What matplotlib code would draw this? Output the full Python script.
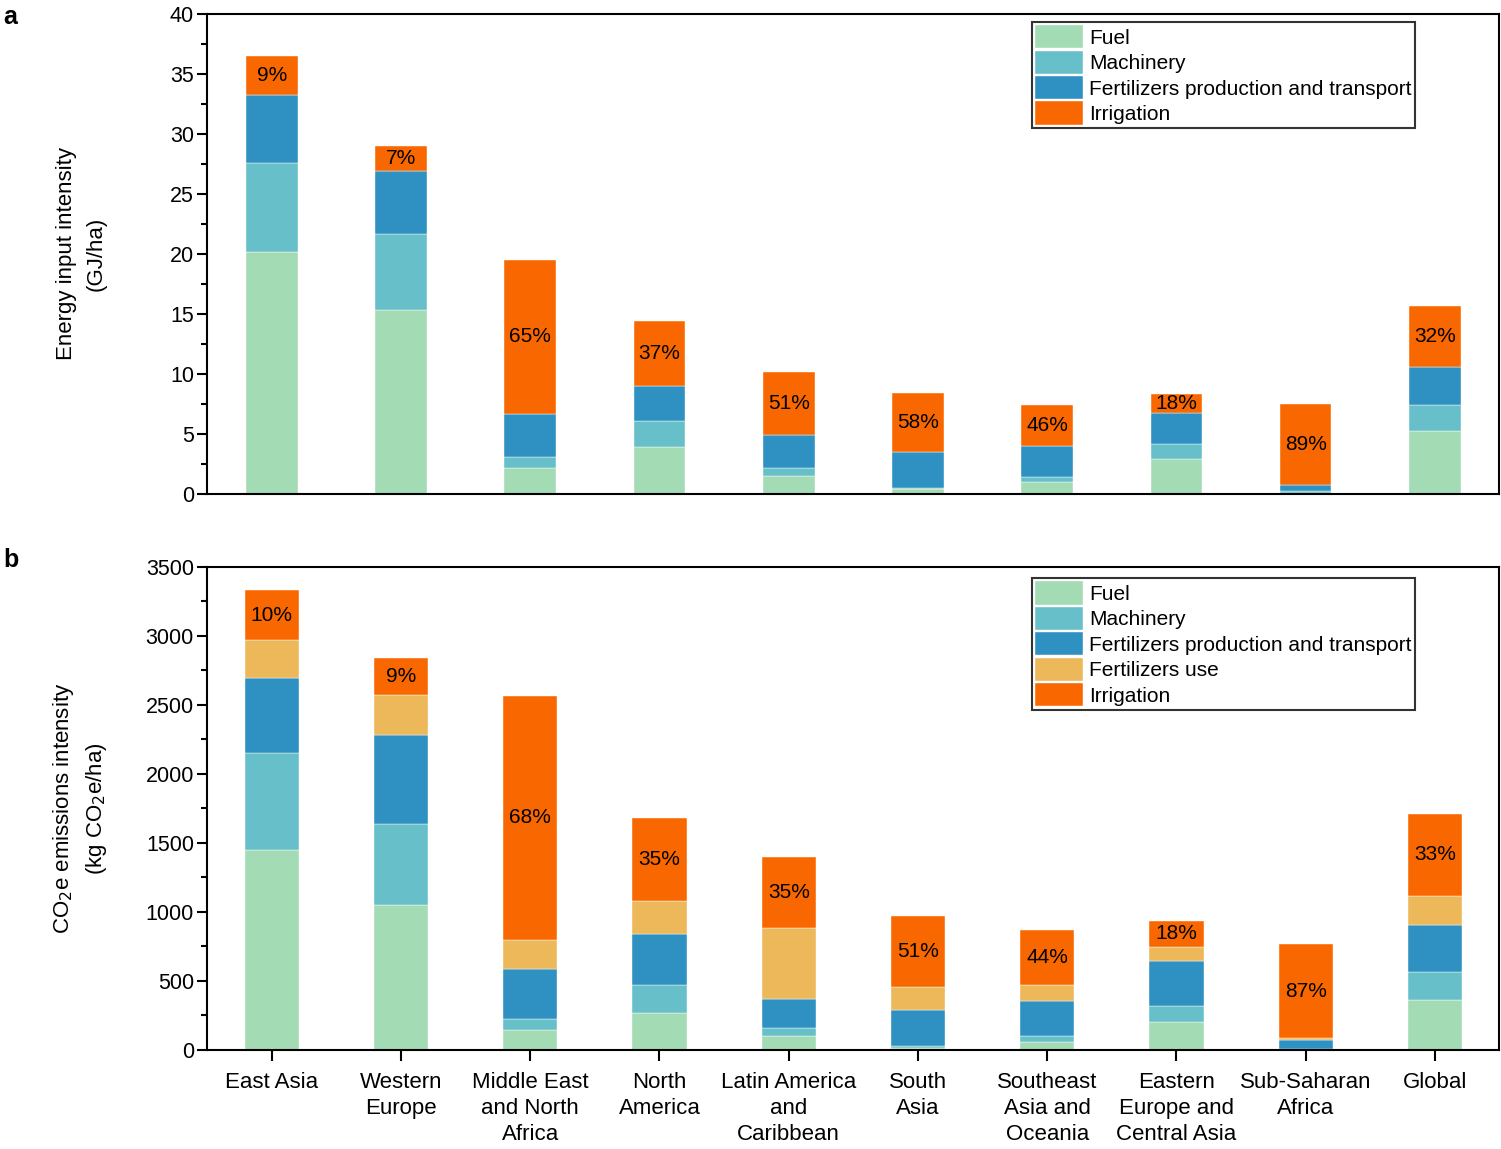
import matplotlib
matplotlib.use('Agg')
import matplotlib.pyplot as plt
import numpy as np

plt.rcParams['font.family'] = ['Liberation Sans', 'DejaVu Sans']
plt.rcParams['font.size'] = 15

# ---- data ----
regions = ['East Asia', 'Western\nEurope', 'Middle East\nand North\nAfrica',
           'North\nAmerica', 'Latin America\nand\nCaribbean', 'South\nAsia',
           'Southeast\nAsia and\nOceania', 'Eastern\nEurope and\nCentral Asia',
           'Sub-Saharan\nAfrica', 'Global']

# panel a: energy input intensity (GJ/ha)
e_fuel = [20.2, 15.3, 2.2, 3.9, 1.5, 0.4, 0.97, 2.94, 0.1, 5.28]
e_mach = [7.4, 6.4, 0.85, 2.15, 0.65, 0.1, 0.42, 1.23, 0.18, 2.17]
e_fert = [5.6, 5.2, 3.65, 2.95, 2.8, 3.0, 2.61, 2.55, 0.5, 3.15]
e_irr = [3.3, 2.1, 12.8, 5.45, 5.22, 4.89, 3.39, 1.58, 6.69, 5.1]
e_pct = ['9%', '7%', '65%', '37%', '51%', '58%', '46%', '18%', '89%', '32%']

# panel b: CO2e emissions intensity (kg CO2e/ha)
c_fuel = [1447, 1051, 147, 270, 99, 15, 58, 203, 5, 365]
c_mach = [705, 587, 80, 203, 60, 14, 43, 114, 5, 202]
c_fert = [544, 645, 362, 365, 211, 259, 254, 326, 65, 337]
c_use = [275, 289, 210, 242, 516, 169, 114, 103, 10, 214]
c_irr = [360, 266, 1764, 603, 510, 512, 401, 191, 683, 590]
c_pct = ['10%', '9%', '68%', '35%', '35%', '51%', '44%', '18%', '87%', '33%']

CLR = {
    'Fuel': '#A3DBB4',
    'Machinery': '#67BFC9',
    'Fertilizers production and transport': '#2F91C2',
    'Fertilizers use': '#ECB85A',
    'Irrigation': '#F96800',
}


def stacked(ax, series, pct, width):
    x = np.arange(len(regions))
    bottom = np.zeros(len(regions))
    for name, vals in series:
        vals = np.array(vals, dtype=float)
        ax.bar(x, vals, width, bottom=bottom, color=CLR[name], label=name,
               edgecolor='white', linewidth=0.3, zorder=2)
        last_bottom = bottom.copy()
        bottom = bottom + vals
    # percentages centred in the irrigation segment
    for i, p in enumerate(pct):
        ax.text(x[i], last_bottom[i] + (bottom[i] - last_bottom[i]) / 2, p,
                ha='center', va='center', fontsize=15, zorder=3)
    ax.set_xlim(-0.5, len(regions) - 0.5)


def style(ax):
    for s in ax.spines.values():
        s.set_linewidth(1.5)
    ax.tick_params(axis='y', which='major', direction='out', length=7, width=1.5,
                   labelsize=15.5, pad=2.5)
    ax.tick_params(axis='y', which='minor', direction='out', length=4, width=1.5)


def legend(ax, y):
    leg = ax.legend(loc='upper left', bbox_to_anchor=(0.638, y), fontsize=15,
                    frameon=True, fancybox=False, edgecolor='black',
                    handlelength=2.3, handleheight=1.35, labelspacing=0.1,
                    handletextpad=0.3, borderpad=0.15, borderaxespad=0)
    leg.get_frame().set_linewidth(1.5)


fig = plt.figure(figsize=(15.01, 11.49), dpi=100)
ax1 = fig.add_axes([0.138, 0.570, 0.861, 0.418])
ax2 = fig.add_axes([0.138, 0.0862, 0.861, 0.4204])

# ---- panel a ----
stacked(ax1, [('Fuel', e_fuel), ('Machinery', e_mach),
              ('Fertilizers production and transport', e_fert),
              ('Irrigation', e_irr)], e_pct, 0.4)
ax1.set_ylim(0, 40)
ax1.set_yticks(np.arange(0, 41, 5))
ax1.set_yticks(np.arange(0, 40, 2.5), minor=True)
ax1.set_xticks([])
style(ax1)
ax1.set_ylabel('Energy input intensity\n(GJ/ha)', fontsize=16, linespacing=1.55)
ax1.yaxis.set_label_coords(-0.078, 0.5)
legend(ax1, 0.983)

# ---- panel b ----
stacked(ax2, [('Fuel', c_fuel), ('Machinery', c_mach),
              ('Fertilizers production and transport', c_fert),
              ('Fertilizers use', c_use), ('Irrigation', c_irr)], c_pct, 0.42)
ax2.set_ylim(0, 3500)
ax2.set_yticks(np.arange(0, 3501, 500))
ax2.set_yticks(np.arange(0, 3500, 250), minor=True)
ax2.set_xticks(np.arange(len(regions)))
ax2.set_xticklabels(regions, fontsize=16, linespacing=1.32)
ax2.tick_params(axis='x', direction='out', length=8, width=1.5, pad=8)
style(ax2)
ax2.set_ylabel('CO$_2$e emissions intensity\n(kg CO$_2$e/ha)', fontsize=16,
               linespacing=1.45)
ax2.yaxis.set_label_coords(-0.076, 0.5)
legend(ax2, 0.977)

fig.text(0.002, 0.985, 'a', fontsize=18, fontweight='bold', va='center')
fig.text(0.002, 0.513, 'b', fontsize=18, fontweight='bold', va='center')

fig.savefig('out.png', dpi=100, facecolor='white')
